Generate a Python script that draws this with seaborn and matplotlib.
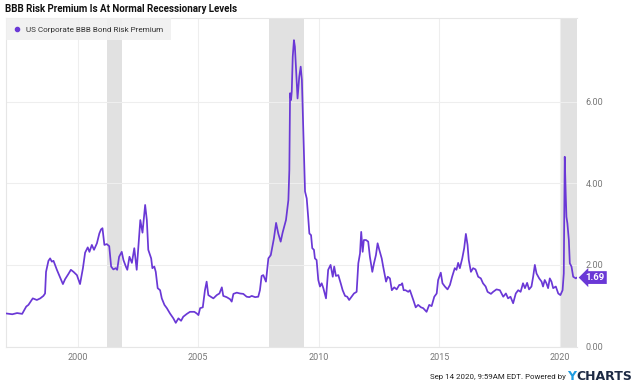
import numpy as np
import pandas as pd
import matplotlib
matplotlib.use('Agg')
import matplotlib.pyplot as plt
from matplotlib.lines import Line2D
import seaborn as sns

# values (decimal year, spread in %)
years = [1997.04, 1997.29, 1997.49, 1997.70, 1997.87, 1997.96, 1998.14, 1998.31, 1998.45, 1998.58,
         1998.65, 1998.69, 1998.79, 1998.86, 1998.93, 1999.00, 1999.14, 1999.27, 1999.39, 1999.48,
         1999.62, 1999.72, 1999.83, 1999.97, 2000.10, 2000.22, 2000.31, 2000.42, 2000.49, 2000.59,
         2000.68, 2000.80, 2000.90, 2000.97, 2001.03, 2001.11, 2001.21, 2001.31, 2001.39, 2001.48,
         2001.58, 2001.64, 2001.72, 2001.83, 2001.90, 2002.00, 2002.06, 2002.15, 2002.25, 2002.35,
         2002.45, 2002.55, 2002.60, 2002.69, 2002.80, 2002.87, 2002.93, 2003.05, 2003.10, 2003.18,
         2003.24, 2003.32, 2003.42, 2003.49, 2003.60, 2003.70, 2003.83, 2003.97, 2004.07, 2004.18,
         2004.29, 2004.38, 2004.53, 2004.66, 2004.84, 2004.94, 2005.01, 2005.08, 2005.19, 2005.28,
         2005.35, 2005.42, 2005.52, 2005.63, 2005.77, 2005.88, 2005.98, 2006.04, 2006.18, 2006.32,
         2006.39, 2006.46, 2006.60, 2006.73, 2006.87, 2007.01, 2007.12, 2007.22, 2007.36, 2007.49,
         2007.56, 2007.63, 2007.70, 2007.81, 2007.91, 2008.01, 2008.09, 2008.14, 2008.23, 2008.32,
         2008.42, 2008.50, 2008.64, 2008.74, 2008.78, 2008.81, 2008.85, 2008.88, 2008.92, 2008.97,
         2009.01, 2009.08, 2009.12, 2009.19, 2009.25, 2009.30, 2009.36, 2009.43, 2009.50, 2009.56,
         2009.61, 2009.68, 2009.73, 2009.80, 2009.84, 2009.91, 2009.98, 2010.05, 2010.12, 2010.19,
         2010.30, 2010.39, 2010.49, 2010.58, 2010.64, 2010.71, 2010.81, 2010.91, 2010.99, 2011.09,
         2011.18, 2011.26, 2011.36, 2011.46, 2011.57, 2011.64, 2011.71, 2011.76, 2011.82, 2011.87,
         2011.96, 2012.05, 2012.12, 2012.22, 2012.29, 2012.37, 2012.44, 2012.51, 2012.61, 2012.67,
         2012.79, 2012.86, 2012.95, 2013.03, 2013.13, 2013.23, 2013.34, 2013.41, 2013.46, 2013.52,
         2013.60, 2013.71, 2013.78, 2013.85, 2013.92, 2014.02, 2014.12, 2014.24, 2014.33, 2014.47,
         2014.58, 2014.68, 2014.79, 2014.89, 2014.95, 2015.06, 2015.13, 2015.23, 2015.34, 2015.44,
         2015.53, 2015.64, 2015.71, 2015.78, 2015.85, 2015.95, 2016.03, 2016.10, 2016.17, 2016.22,
         2016.31, 2016.40, 2016.50, 2016.61, 2016.72, 2016.81, 2016.92, 2017.00, 2017.14, 2017.23,
         2017.37, 2017.51, 2017.65, 2017.76, 2017.85, 2017.95, 2018.06, 2018.17, 2018.27, 2018.37,
         2018.47, 2018.55, 2018.64, 2018.72, 2018.82, 2018.89, 2018.96, 2019.03, 2019.14, 2019.24,
         2019.30, 2019.37, 2019.44, 2019.51, 2019.58, 2019.65, 2019.72, 2019.83, 2019.93, 2020.02,
         2020.11, 2020.16, 2020.20, 2020.24, 2020.27, 2020.31, 2020.37, 2020.41, 2020.48, 2020.55,
         2020.66, 2020.70]
premium = [0.81, 0.79, 0.82, 0.80, 0.98, 1.02, 1.18, 1.14, 1.18, 1.24,
           1.30, 1.83, 2.10, 2.16, 2.08, 2.10, 1.88, 1.70, 1.53, 1.65,
           1.78, 1.88, 1.83, 1.75, 1.53, 1.92, 2.30, 2.43, 2.32, 2.49,
           2.37, 2.53, 2.77, 2.87, 2.90, 2.49, 2.51, 2.46, 1.96, 1.89,
           1.92, 1.88, 2.20, 2.32, 2.12, 1.96, 1.88, 2.20, 2.05, 2.41,
           1.88, 2.69, 3.10, 2.79, 3.47, 3.10, 2.37, 2.16, 1.92, 1.96,
           1.83, 1.43, 1.38, 1.18, 1.02, 0.94, 0.81, 0.69, 0.58, 0.69,
           0.63, 0.73, 0.80, 0.85, 0.85, 0.81, 0.77, 0.94, 0.96, 1.38,
           1.59, 1.26, 1.22, 1.18, 1.26, 1.30, 1.45, 1.24, 1.21, 1.16,
           1.10, 1.29, 1.32, 1.30, 1.29, 1.22, 1.21, 1.24, 1.21, 1.22,
           1.38, 1.73, 1.75, 1.59, 2.16, 2.24, 2.49, 2.65, 3.03, 2.77,
           2.57, 2.79, 3.10, 3.59, 4.33, 6.21, 6.04, 6.25, 7.10, 7.51,
           7.35, 6.53, 6.08, 6.61, 6.86, 6.53, 5.31, 3.80, 3.63, 3.18,
           2.77, 2.73, 2.41, 2.37, 2.16, 2.12, 1.63, 1.47, 1.55, 1.43,
           1.18, 1.88, 2.00, 1.71, 1.96, 1.73, 1.75, 1.55, 1.38, 1.24,
           1.22, 1.14, 1.22, 1.30, 1.34, 2.04, 2.28, 2.81, 2.32, 2.61,
           2.61, 2.57, 2.20, 1.83, 2.04, 2.24, 2.53, 2.37, 2.16, 1.96,
           1.59, 1.71, 1.67, 1.38, 1.45, 1.40, 1.51, 1.51, 1.55, 1.38,
           1.38, 1.34, 1.38, 1.26, 1.14, 0.96, 1.02, 0.96, 0.94, 0.85,
           1.02, 0.99, 1.22, 1.30, 1.63, 1.81, 1.55, 1.47, 1.40, 1.51,
           1.71, 1.92, 1.88, 2.05, 1.92, 2.16, 2.41, 2.76, 2.49, 2.12,
           1.83, 1.92, 1.89, 1.71, 1.67, 1.55, 1.47, 1.34, 1.29, 1.34,
           1.40, 1.38, 1.22, 1.30, 1.18, 1.22, 1.06, 1.30, 1.38, 1.34,
           1.55, 1.43, 1.56, 1.40, 1.47, 1.71, 2.00, 1.79, 1.67, 1.59,
           1.47, 1.63, 1.55, 1.43, 1.67, 1.59, 1.43, 1.47, 1.30, 1.26,
           1.38, 1.79, 4.65, 3.75, 3.18, 3.02, 2.61, 2.04, 1.96, 1.71,
           1.67, 1.69]

rec_start = [2001.21, 2007.94, 2020.04]
rec_end = [2001.83, 2009.40, 2020.72]
xticks = [2000, 2005, 2010, 2015, 2020]
yticks = [0, 2, 4, 6]
series_name = 'US Corporate BBB Bond Risk Premium'

sns.set_style('white')
plt.rcParams['font.family'] = ['Roboto', 'DejaVu Sans']

purple = '#6a38d6'
fig = plt.figure(figsize=(6.4, 3.85), dpi=100)
ax = fig.add_axes([0.009, 0.1, 0.893, 0.853])

for s, e in zip(rec_start, rec_end):
    ax.axvspan(s, e, color='#e1e1e1', lw=0, zorder=0)

df = pd.DataFrame({'year': years, 'premium': premium})
sns.lineplot(data=df, x='year', y='premium', ax=ax, color=purple, lw=1.25, zorder=3)

ax.set_xlim(1997.02, 2020.72)
ax.set_ylim(0, 8.05)
ax.set_xticks(xticks)
ax.set_xticklabels([str(t) for t in xticks])
ax.set_yticks(yticks)
ax.set_yticklabels(['%.2f' % t for t in yticks])
ax.yaxis.tick_right()
ax.set_xlabel('')
ax.set_ylabel('')
ax.tick_params(axis='both', length=0, labelsize=6.5, labelcolor='#777777')
ax.tick_params(axis='y', pad=6)
ax.tick_params(axis='x', pad=5)
ax.grid(True, color='#eeeeee', lw=0.8, zorder=1)
ax.set_axisbelow(True)
for side in ['left', 'top', 'bottom']:
    ax.spines[side].set_color('#e6e6e6')
    ax.spines[side].set_linewidth(0.8)
ax.spines['right'].set_visible(False)

# legend box in the top left corner
handle = Line2D([], [], color=purple, marker='o', lw=0, markersize=3)
leg = ax.legend([handle], [series_name], loc='upper left', bbox_to_anchor=(0, 1),
                borderaxespad=0, frameon=True, fancybox=False, facecolor='#f0f0f0',
                edgecolor='none', framealpha=0.9, fontsize=5.9, handlelength=0.8,
                handletextpad=0.7, borderpad=0.95, labelcolor='#333333')

# last value tag
ax.annotate('%.2f' % premium[-1], xy=(1, premium[-1]), xycoords=('axes fraction', 'data'),
            xytext=(6, 0), textcoords='offset points', ha='left', va='center',
            color='white', fontweight='bold', fontsize=6.8,
            bbox=dict(boxstyle='larrow,pad=0.2', fc=purple, ec='none'))

fig.text(5 / 640, 1 - 9 / 385, 'BBB Risk Premium Is At Normal Recessionary Levels',
         fontweight='bold', fontsize=7.0, ha='left', va='center', color='#111111')

# footer
fig.canvas.draw()
r = fig.canvas.get_renderer()
t3 = fig.text(632 / 640, 1 - 377 / 385, 'CHARTS', fontweight='bold', fontsize=9,
              ha='right', va='center', color='#1d2a44', family='DejaVu Sans')
bb = t3.get_window_extent(r)
t2 = fig.text((bb.x0 - 0.5) / 640, 1 - 377 / 385, 'Y', fontweight='bold', fontsize=9,
              ha='right', va='center', color='#1e9be0', family='DejaVu Sans')
bb = t2.get_window_extent(r)
fig.text((bb.x0 - 1) / 640, 1 - 377 / 385, 'Sep 14 2020, 9:59AM EDT. Powered by',
         fontsize=5.7, ha='right', va='center', color='#222222')

fig.savefig('out.png', dpi=100)
